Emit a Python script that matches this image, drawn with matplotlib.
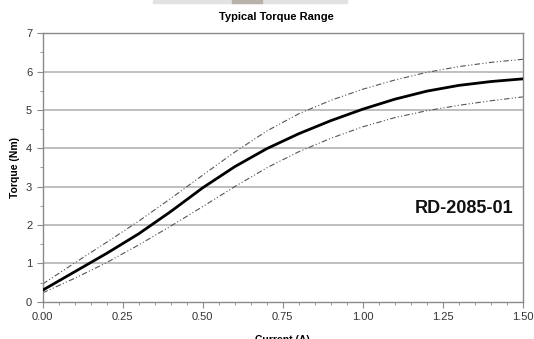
import matplotlib
matplotlib.use("Agg")
import matplotlib.pyplot as plt
from matplotlib.ticker import MultipleLocator, FormatStrFormatter
from matplotlib.patches import Rectangle

plt.rcParams['font.family'] = ['Liberation Sans', 'DejaVu Sans']

# current (A) and torque (Nm)
current = [0.0, 0.1, 0.2, 0.3, 0.4, 0.5, 0.6, 0.7, 0.8, 0.9, 1.0, 1.1, 1.2, 1.3, 1.4, 1.5]
torque_typ = [0.30, 0.78, 1.26, 1.77, 2.35, 2.97, 3.52, 3.99, 4.38, 4.72, 5.02, 5.28, 5.49, 5.64, 5.74, 5.81]
torque_max = [0.46, 1.01, 1.55, 2.10, 2.69, 3.30, 3.90, 4.45, 4.90, 5.25, 5.54, 5.78, 5.98, 6.13, 6.24, 6.32]
torque_min = [0.23, 0.61, 1.02, 1.48, 1.97, 2.48, 3.00, 3.49, 3.91, 4.26, 4.56, 4.80, 4.98, 5.12, 5.24, 5.34]

fig = plt.figure(figsize=(5.34, 3.39), dpi=100)
ax = fig.add_axes([0.0798, 0.110, 0.8994, 0.792])

# bit of the product photo peeking in at the top
fig.patches.append(Rectangle((153 / 534, 1 - 3 / 339), 194 / 534, 3 / 339,
                             transform=fig.transFigure, color='#e2e2e2', zorder=0))
fig.patches.append(Rectangle((232 / 534, 1 - 3 / 339), 30 / 534, 3 / 339,
                             transform=fig.transFigure, color='#b8b2aa', zorder=0))

for v in range(1, 7):
    ax.axhline(v, color='#b4b4b4', lw=1.2, zorder=1)

band_dash = (5, 2, 1, 2, 1, 2)
ax.plot(current, torque_max, color='#555555', lw=0.8, dashes=band_dash, zorder=2)
ax.plot(current, torque_min, color='#555555', lw=0.8, dashes=band_dash, zorder=2)
ax.plot(current, torque_typ, color='black', lw=2.0, zorder=3,
        solid_joinstyle='round', solid_capstyle='round')

ax.set_xlim(0, 1.5)
ax.set_ylim(0, 7)
ax.xaxis.set_major_locator(MultipleLocator(0.25))
ax.xaxis.set_minor_locator(MultipleLocator(0.05))
ax.xaxis.set_major_formatter(FormatStrFormatter('%.2f'))
ax.yaxis.set_major_locator(MultipleLocator(1))
ax.yaxis.set_minor_locator(MultipleLocator(0.5))

for s in ax.spines.values():
    s.set_color('#8a8a8a')
    s.set_linewidth(1.0)
ax.tick_params(which='major', length=4, color='#8a8a8a', labelsize=8, labelcolor='#333333')
ax.tick_params(which='minor', length=2, color='#8a8a8a')

ax.set_xlabel('Current (A)', fontsize=7.5, fontweight='bold', labelpad=9)
ax.set_ylabel('Torque (Nm)', fontsize=7.5, fontweight='bold', labelpad=4)

fig.text(276 / 534, 1 - 17 / 339, 'Typical Torque Range', ha='center', va='center',
         fontsize=8, fontweight='bold')
ax.text(1.47, 2.32, 'RD-2085-01', ha='right', va='baseline',
        fontsize=13, fontweight='bold', color='#111111')

fig.savefig('out.png', dpi=100)
